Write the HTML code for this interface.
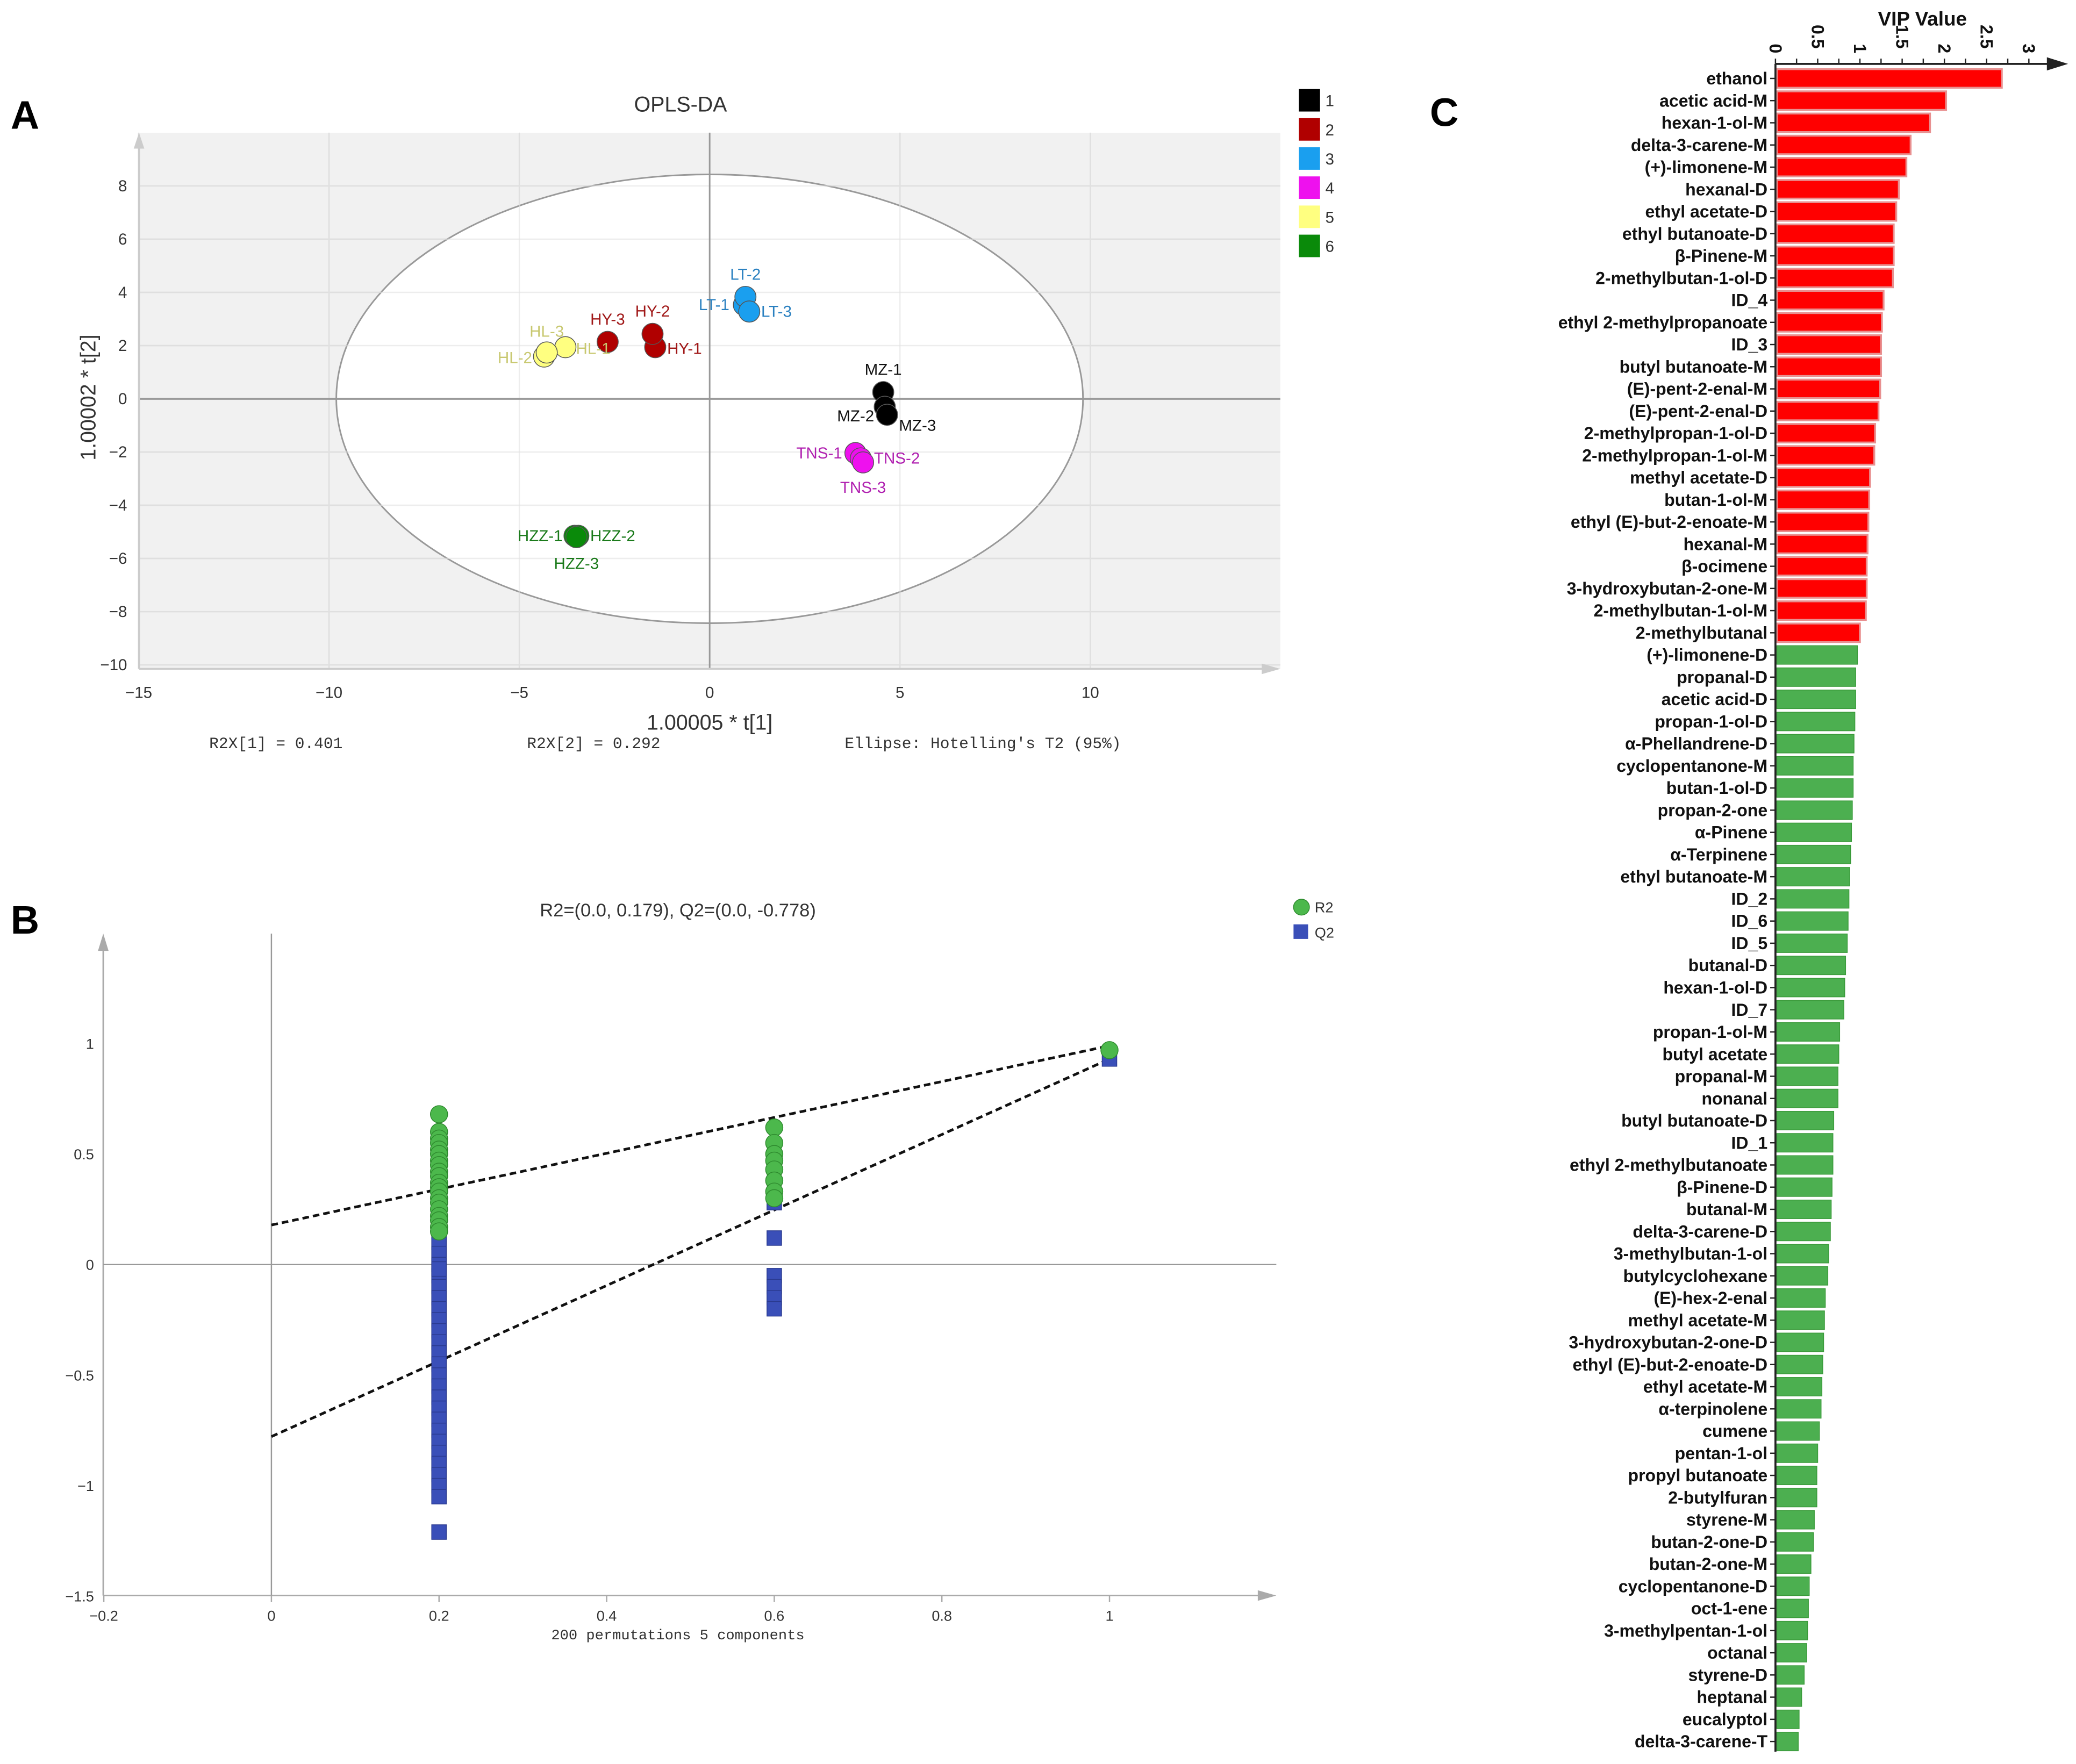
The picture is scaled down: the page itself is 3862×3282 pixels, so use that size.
<!DOCTYPE html>
<html><head><meta charset="utf-8"><style>
html,body{margin:0;padding:0;background:#fff;}
svg{display:block;}
text{font-family:"Liberation Sans",sans-serif;}
.mono{font-family:"Liberation Mono",monospace;}
</style></head><body>
<svg id="fig" width="3862" height="3282" viewBox="0 0 1568 1332" xmlns="http://www.w3.org/2000/svg">
<rect x="0" y="0" width="1568" height="1332" fill="#fff"/>
<g id="pa"></g>
<g id="pb"></g>
<g id="pc"></g>
</svg>
<script>
// ---------- Panel A data ----------
const aNames = ["MZ-1","MZ-2","MZ-3","TNS-1","TNS-2","TNS-3","LT-1","LT-2","LT-3","HY-1","HY-2","HY-3","HL-1","HL-2","HL-3","HZZ-1","HZZ-2","HZZ-3"];
const aT1 = [4.56,4.6,4.66,3.83,3.97,4.03,0.9,0.94,1.04,-1.43,-1.5,-2.68,-3.79,-4.35,-4.28,-3.55,-3.45,-3.5];
const aT2 = [0.25,-0.3,-0.6,-2.04,-2.24,-2.39,3.53,3.83,3.28,1.94,2.44,2.14,1.94,1.59,1.74,-5.15,-5.15,-5.2];
const aGroup = [1,1,1,4,4,4,3,3,3,2,2,2,5,5,5,6,6,6];
const aXTicks = [-15,-10,-5,0,5,10];
const aYTicks = [-10,-8,-6,-4,-2,0,2,4,6,8];
// ---------- Panel B data ----------
const bR2x = [0.2,0.2,0.2,0.2,0.2,0.2,0.2,0.2,0.2,0.2,0.2,0.2,0.2,0.2,0.2,0.2,0.2,0.2,0.2,0.2,0.6,0.6,0.6,0.6,0.6,0.6,0.6,0.6,1];
const bR2y = [0.68,0.6,0.57,0.55,0.52,0.5,0.47,0.45,0.42,0.4,0.37,0.35,0.33,0.3,0.28,0.25,0.22,0.2,0.17,0.15,0.62,0.55,0.5,0.47,0.43,0.38,0.33,0.3,0.97];
const bQ2x = [0.2,0.2,0.2,0.2,0.2,0.2,0.2,0.2,0.2,0.2,0.2,0.2,0.2,0.2,0.2,0.2,0.2,0.2,0.2,0.2,0.2,0.2,0.2,0.2,0.2,0.2,0.2,0.2,0.2,0.6,0.6,0.6,0.6,0.6,0.6,1];
const bQ2y = [0.27,0.2,0.15,0.1,0.05,0,-0.05,-0.1,-0.15,-0.2,-0.25,-0.3,-0.35,-0.4,-0.45,-0.5,-0.55,-0.6,-0.65,-0.7,-0.75,-0.8,-0.85,-0.9,-0.95,-1.0,-1.05,-0.02,-1.21,0.28,0.12,-0.05,-0.1,-0.15,-0.2,0.93];
const bR2Line = [0.179,0.99];
const bQ2Line = [-0.778,0.93];
const bXTicks = [-0.2,0,0.2,0.4,0.6,0.8,1];
const bYTicks = [-1.5,-1,-0.5,0,0.5,1];
// ---------- Panel C data ----------
const cNames = ["ethanol","acetic acid-M","hexan-1-ol-M","delta-3-carene-M","(+)-limonene-M","hexanal-D","ethyl acetate-D","ethyl butanoate-D","β-Pinene-M","2-methylbutan-1-ol-D","ID_4","ethyl 2-methylpropanoate","ID_3","butyl butanoate-M","(E)-pent-2-enal-M","(E)-pent-2-enal-D","2-methylpropan-1-ol-D","2-methylpropan-1-ol-M","methyl acetate-D","butan-1-ol-M","ethyl (E)-but-2-enoate-M","hexanal-M","β-ocimene","3-hydroxybutan-2-one-M","2-methylbutan-1-ol-M","2-methylbutanal","(+)-limonene-D","propanal-D","acetic acid-D","propan-1-ol-D","α-Phellandrene-D","cyclopentanone-M","butan-1-ol-D","propan-2-one","α-Pinene","α-Terpinene","ethyl butanoate-M","ID_2","ID_6","ID_5","butanal-D","hexan-1-ol-D","ID_7","propan-1-ol-M","butyl acetate","propanal-M","nonanal","butyl butanoate-D","ID_1","ethyl 2-methylbutanoate","β-Pinene-D","butanal-M","delta-3-carene-D","3-methylbutan-1-ol","butylcyclohexane","(E)-hex-2-enal","methyl acetate-M","3-hydroxybutan-2-one-D","ethyl (E)-but-2-enoate-D","ethyl acetate-M","α-terpinolene","cumene","pentan-1-ol","propyl butanoate","2-butylfuran","styrene-M","butan-2-one-D","butan-2-one-M","cyclopentanone-D","oct-1-ene","3-methylpentan-1-ol","octanal","styrene-D","heptanal","eucalyptol","delta-3-carene-T"];
const cVip = [2.68,2.02,1.83,1.6,1.55,1.46,1.43,1.4,1.4,1.39,1.28,1.26,1.25,1.25,1.24,1.22,1.18,1.17,1.12,1.11,1.1,1.09,1.08,1.08,1.07,1.0,0.97,0.95,0.95,0.94,0.93,0.92,0.92,0.91,0.9,0.89,0.88,0.87,0.86,0.85,0.83,0.82,0.81,0.76,0.75,0.74,0.74,0.69,0.68,0.68,0.67,0.66,0.65,0.63,0.62,0.59,0.58,0.57,0.56,0.55,0.54,0.52,0.5,0.49,0.49,0.46,0.45,0.42,0.4,0.39,0.38,0.37,0.34,0.31,0.28,0.27];
const cTicks = [0,0.5,1,1.5,2,2.5,3];

const NS="http://www.w3.org/2000/svg";
function mk(parent,tag,attrs,txt){const e=document.createElementNS(NS,tag);for(const k in attrs)e.setAttribute(k,attrs[k]);if(txt!==undefined)e.textContent=txt;parent.appendChild(e);return e;}

// ===== Panel A =====
(function(){
const g=document.getElementById('pa');
const X=t=>536+28.75*t, Y=t=>301-20.1*t;
const L=105,R=967,T=100,B=505;
let t=mk(g,'text',{x:8,y:97,'font-size':30,'font-weight':'bold','font-family':'Liberation Serif, serif'},'A');


let bg=mk(g,'rect',{x:L,y:T,width:R-L,height:B-T,fill:'#f1f1f1'});


for(const v of aXTicks){const gl=mk(g,'line',{x1:X(v),x2:X(v),y1:T,y2:B,stroke:'#dcdcdc','stroke-width':1});

}
for(const v of aYTicks){const gl=mk(g,'line',{x1:L,x2:R,y1:Y(v),y2:Y(v),stroke:'#dcdcdc','stroke-width':1});

}
let el=mk(g,'ellipse',{cx:536,cy:301,rx:282,ry:169.5,fill:'#fff',stroke:'#999','stroke-width':1.2});


for(const v of aXTicks){if(v===0)continue;const gl=mk(g,'line',{x1:X(v),x2:X(v),y1:T,y2:B,stroke:'#e2e2e2','stroke-width':1,opacity:0.6});

}
for(const v of aYTicks){if(v===0)continue;const gl=mk(g,'line',{x1:L,x2:R,y1:Y(v),y2:Y(v),stroke:'#e2e2e2','stroke-width':1,opacity:0.6});

}
let z=mk(g,'line',{x1:X(0),x2:X(0),y1:T,y2:B,stroke:'#999','stroke-width':1.2});


z=mk(g,'line',{x1:L,x2:R,y1:Y(0),y2:Y(0),stroke:'#999','stroke-width':1.5});


let ax=mk(g,'line',{x1:L,x2:L,y1:B,y2:T+8,stroke:'#ccc','stroke-width':1.5});


ax=mk(g,'polygon',{points:`${L-4},${T+12} ${L+4},${T+12} ${L},${T}`,fill:'#ccc'});


ax=mk(g,'line',{x1:L,x2:R-6,y1:B,y2:B,stroke:'#ccc','stroke-width':1.5});


ax=mk(g,'polygon',{points:`${R-14},${B-4} ${R-14},${B+4} ${R},${B}`,fill:'#ccc'});


for(const v of aXTicks){const tt=mk(g,'text',{x:X(v),y:527,'font-size':12,'text-anchor':'middle',fill:'#333'},v<0?'\u2212'+(-v):String(v));

}
for(const v of aYTicks){const tt=mk(g,'text',{x:96,y:Y(v)+4,'font-size':12,'text-anchor':'end',fill:'#333'},v<0?'\u2212'+(-v):String(v));

}
t=mk(g,'text',{x:514,y:84,'font-size':16,'text-anchor':'middle',fill:'#333'},'OPLS-DA');


t=mk(g,'text',{x:536,y:551,'font-size':16,'text-anchor':'middle',fill:'#333'},'1.00005 * t[1]');


t=mk(g,'text',{x:0,y:0,'font-size':16,'text-anchor':'middle',fill:'#333',transform:'translate(72,300) rotate(-90)'},'1.00002 * t[2]');


const foot=[['R2X[1] = 0.401',158],['R2X[2] = 0.292',398],["Ellipse: Hotelling's T2 (95%)",638]];
for(const f of foot){t=mk(g,'text',{x:f[1],y:565,'font-size':12,fill:'#333',class:'mono'},f[0]);

}
const colors={1:'#000000',2:'#b00000',3:'#1a9fef',4:'#ee11ee',5:'#ffff80',6:'#0a8a0a'};
const txtColors={1:'#111',2:'#a01818',3:'#2a80c0',4:'#b020b0',5:'#c8c870',6:'#1a7a1a'};
const offs={"MZ-1":[0,-13,'middle'],"MZ-2":[-8,11,'end'],"MZ-3":[9,12,'start'],"TNS-1":[-10,4,'end'],"TNS-2":[10,4,'start'],"TNS-3":[0,23,'middle'],"LT-1":[-11,4,'end'],"LT-2":[0,-13,'middle'],"LT-3":[9,4,'start'],"HY-1":[9,5,'start'],"HY-2":[0,-13,'middle'],"HY-3":[0,-13,'middle'],"HL-1":[8,5,'start'],"HL-2":[-9,5,'end'],"HL-3":[0,-12,'middle'],"HZZ-1":[-9,4,'end'],"HZZ-2":[9,4,'start'],"HZZ-3":[0,24,'middle']};
for(let i=0;i<aNames.length;i++){
 const c=mk(g,'circle',{cx:X(aT1[i]),cy:Y(aT2[i]),r:8,fill:colors[aGroup[i]],stroke:'#555','stroke-width':0.6});
 
 
}
for(let i=0;i<aNames.length;i++){
 const o=offs[aNames[i]];
 const l=mk(g,'text',{x:X(aT1[i])+o[0],y:Y(aT2[i])+o[1],'font-size':12,'text-anchor':o[2],fill:txtColors[aGroup[i]]},aNames[i]);
 
 
}
for(let k=1;k<=6;k++){
 const y=67+(k-1)*22;
 const s=mk(g,'rect',{x:981,y:y,width:16,height:17,fill:colors[k]});
 
 
 const lt=mk(g,'text',{x:1001,y:y+13,'font-size':12,fill:'#333'},String(k));
 
 
}
})();

// ===== Panel B =====
(function(){
const g=document.getElementById('pb');
const X=v=>205+633*v, Y=v=>955-167*v;
let t=mk(g,'text',{x:8,y:705,'font-size':30,'font-weight':'bold','font-family':'Liberation Serif, serif'},'B');


let a=mk(g,'line',{x1:78,x2:78,y1:1205,y2:712,stroke:'#aaa','stroke-width':1.2});


a=mk(g,'polygon',{points:'74,718 82,718 78,705',fill:'#aaa'});


a=mk(g,'line',{x1:78,x2:958,y1:1205,y2:1205,stroke:'#aaa','stroke-width':1.2});


a=mk(g,'polygon',{points:'950,1201 950,1209 964,1205',fill:'#aaa'});


a=mk(g,'line',{x1:X(0),x2:X(0),y1:705,y2:1205,stroke:'#999','stroke-width':1});


a=mk(g,'line',{x1:78,x2:964,y1:Y(0),y2:Y(0),stroke:'#999','stroke-width':1});


for(const v of bXTicks){const tt=mk(g,'text',{x:X(v),y:1224,'font-size':11,'text-anchor':'middle',fill:'#333'},v<0?'\u2212'+(-v):String(v));


const tk=mk(g,'line',{x1:X(v),x2:X(v),y1:1205,y2:1210,stroke:'#aaa'});

}
for(const v of bYTicks){const tt=mk(g,'text',{x:71,y:Y(v)+4,'font-size':11,'text-anchor':'end',fill:'#333'},v<0?'\u2212'+(-v):String(v));

}
t=mk(g,'text',{x:512,y:692,'font-size':14,'text-anchor':'middle',fill:'#333'},'R2=(0.0, 0.179), Q2=(0.0, -0.778)');


t=mk(g,'text',{x:512,y:1238,'font-size':11,'text-anchor':'middle',fill:'#333',class:'mono'},'200 permutations 5 components');


let ln=mk(g,'line',{x1:X(0),y1:Y(bR2Line[0]),x2:X(1),y2:Y(bR2Line[1]),stroke:'#111','stroke-width':2,'stroke-dasharray':'5,3'});


ln=mk(g,'line',{x1:X(0),y1:Y(bQ2Line[0]),x2:X(1),y2:Y(bQ2Line[1]),stroke:'#111','stroke-width':2,'stroke-dasharray':'5,3'});


for(let i=0;i<bQ2x.length;i++){const s=mk(g,'rect',{x:X(bQ2x[i])-5.5,y:Y(bQ2y[i])-5.5,width:11,height:11,fill:'#3a4fb8',stroke:'#2a3a90','stroke-width':0.6});

}
for(let i=0;i<bR2x.length;i++){const c=mk(g,'circle',{cx:X(bR2x[i]),cy:Y(bR2y[i]),r:6.5,fill:'#4cb84c',stroke:'#2e8a2e','stroke-width':0.6});

}
let lg=mk(g,'circle',{cx:983,cy:685,r:6,fill:'#4cb84c',stroke:'#2e8a2e','stroke-width':0.6});


lg=mk(g,'text',{x:993,y:689,'font-size':11,fill:'#333'},'R2');


lg=mk(g,'rect',{x:977,y:698,width:11,height:11,fill:'#3a4fb8'});


lg=mk(g,'text',{x:993,y:708,'font-size':11,fill:'#333'},'Q2');


})();

// ===== Panel C =====
(function(){
const g=document.getElementById('pc');
const X=v=>1341+63.8*v;
const rowY=i=>59+16.75*i;
let t=mk(g,'text',{x:1080,y:95,'font-size':30,'font-weight':'bold','font-family':'Liberation Serif, serif'},'C');


t=mk(g,'text',{x:1452,y:19,'font-size':15,'font-weight':'bold','text-anchor':'middle',fill:'#111'},'VIP Value');


for(let i=0;i<cNames.length;i++){
 const red=i<26;
 const y=rowY(i);
 const b=mk(g,'rect',{x:X(0)+1,y:y-7,width:X(cVip[i])-X(0)-1,height:14,fill:red?'#ff0000':'#4caf50',stroke:red?'#e89090':'#3a9a3a','stroke-width':red?1.4:0.6});
 
 
 const tk=mk(g,'line',{x1:X(0)-4,x2:X(0),y1:y,y2:y,stroke:'#222','stroke-width':1});
 
 
 const l=mk(g,'text',{x:1335,y:y+4.5,'font-size':13,'font-weight':'bold','text-anchor':'end',fill:'#111'},cNames[i]);
 
 
}
let a=mk(g,'line',{x1:1341,x2:1341,y1:48,y2:1323,stroke:'#222','stroke-width':1.5});


a=mk(g,'line',{x1:1341,x2:1552,y1:48,y2:48,stroke:'#222','stroke-width':1.5});


a=mk(g,'polygon',{points:'1546,43 1546,53 1562,48',fill:'#222'});


for(let v=0;v<=3.25;v+=0.25){const tk=mk(g,'line',{x1:X(v),x2:X(v),y1:44,y2:48,stroke:'#222','stroke-width':1});

}
for(const v of cTicks){const tt=mk(g,'text',{x:0,y:0,'font-size':13,'font-weight':'bold',fill:'#111',transform:`translate(${X(v)-4.5},${40}) rotate(90) translate(-${String(v).length*7.2},0)`},String(v));

}
})();
</script>
</body></html>
